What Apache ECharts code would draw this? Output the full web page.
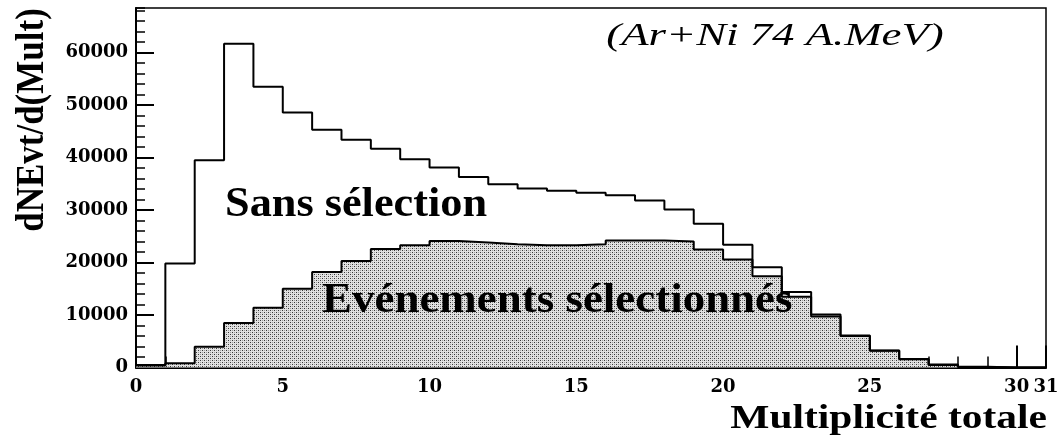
<!DOCTYPE html>
<html>
<head>
<meta charset="utf-8">
<script src="https://cdn.jsdelivr.net/npm/echarts@6/dist/echarts.min.js"></script>
<style>
html,body{margin:0;padding:0;background:#fff;}
#chart{width:1063px;height:440px;}
</style>
</head>
<body>
<div id="chart"></div>
<script>
// Bin lower edges (Multiplicité totale), histogram upper edge
const binStart = [0,1,2,3,4,5,6,7,8,9,10,11,12,13,14,15,16,17,18,19,20,21,22,23,24,25,26,27,28,29,30];
const binEnd = 31;
// "Sans sélection" counts per bin
const sansSelection = [500,19800,39500,61700,53500,48600,45300,43400,41700,39700,38100,36300,34900,34100,33700,33300,32800,31800,30100,27400,23400,19100,14400,10100,6100,3250,1600,550,150,0,0];
// "Evénements sélectionnés" counts per bin
const selectionnes = [400,800,3950,8500,11400,15000,18200,20300,22600,23300,24100,23800,23500,23300,23300,23500,24200,24200,24000,22500,20600,17400,13500,9700,6000,3200,1550,500,100,0,0];
const yMax = 68500;
const xLabelStep = 5;
const yLabelStep = 10000;
const yMinorStep = 2000;
const xMinorStep = 1;

function toSteps(vals){
  const pts = binStart.map((x,i)=>[x, vals[i]]);
  pts.push([binEnd, vals[vals.length-1]]);
  return pts;
}

// stipple pattern
const pc = document.createElement('canvas');
pc.width = 4; pc.height = 4;
const pctx = pc.getContext('2d');
pctx.fillStyle = '#e2e2e2'; pctx.fillRect(0,0,4,4);
pctx.fillStyle = '#383838'; pctx.fillRect(0,0,1,1); pctx.fillRect(2,2,1,1);
pctx.fillStyle = '#a0a0a0'; pctx.fillRect(2,0,1,1); pctx.fillRect(0,2,1,1);

const tickFont = {fontFamily:'DejaVu Serif', fontWeight:'bold', fontSize:18, color:'#000',
  formatter:function(v){return String(v);}};

const chart = echarts.init(document.getElementById('chart'), null, {renderer:'canvas'});
chart.setOption({
  backgroundColor:'#fff',
  animation:false,
  grid:{left:136, right:17, top:8, bottom:72.5, show:true, borderColor:'#000', borderWidth:1.5, containLabel:false},
  xAxis:[{
    type:'value', min:0, max:binEnd, interval:xLabelStep, position:'bottom',
    axisLine:{show:true, onZero:false, lineStyle:{color:'#000', width:2}},
    axisTick:{show:true, inside:true, length:22, lineStyle:{color:'#000', width:2}},
    axisLabel:Object.assign({margin:11}, tickFont),
    splitLine:{show:false}
  },{
    type:'value', min:0, max:binEnd, interval:xMinorStep, position:'bottom',
    axisLine:{show:false, onZero:false},
    axisTick:{show:true, inside:true, length:11, lineStyle:{color:'#000', width:1.5}},
    axisLabel:{show:false}, splitLine:{show:false}
  }],
  yAxis:[{
    type:'value', min:0, max:yMax, interval:yLabelStep, position:'left',
    axisLine:{show:true, onZero:false, lineStyle:{color:'#000', width:2}},
    axisTick:{show:true, inside:true, length:18, lineStyle:{color:'#000', width:2}},
    axisLabel:Object.assign({margin:8, showMaxLabel:false}, tickFont),
    splitLine:{show:false}
  },{
    type:'value', min:0, max:yMax, interval:yMinorStep, position:'left',
    axisLine:{show:false, onZero:false},
    axisTick:{show:true, inside:true, length:9, lineStyle:{color:'#000', width:1.5}},
    axisLabel:{show:false}, splitLine:{show:false}
  }],
  series:[{
    name:'Evénements sélectionnés', type:'line', step:'end', xAxisIndex:0, yAxisIndex:0,
    data:toSteps(selectionnes), symbol:'none', z:2,
    lineStyle:{color:'#000', width:2},
    areaStyle:{color:{image:pc, repeat:'repeat'}, opacity:1}
  },{
    name:'Sans sélection', type:'line', step:'end', xAxisIndex:0, yAxisIndex:0,
    data:toSteps(sansSelection), symbol:'none', z:3,
    lineStyle:{color:'#000', width:2}
  }],
  graphic:[
    {type:'text', x:775, y:37, scaleX:1.4, z:10,
     style:{text:'(Ar+Ni 74 A.MeV)', font:'italic 32px "Liberation Serif"', fill:'#000', textAlign:'center', textVerticalAlign:'middle'}},
    {type:'text', x:225, y:205, scaleX:1.03, z:10,
     style:{text:'Sans sélection', font:'bold 43px "Liberation Serif"', fill:'#000', textAlign:'left', textVerticalAlign:'middle'}},
    {type:'text', x:322, y:301, scaleX:1.07, z:10,
     style:{text:'Evénements sélectionnés', font:'bold 42px "Liberation Serif"', fill:'#000', textAlign:'left', textVerticalAlign:'middle'}},
    {type:'text', x:1047, y:419, scaleX:1.22, z:10,
     style:{text:'Multiplicité totale', font:'bold 34px "Liberation Serif"', fill:'#000', textAlign:'right', textVerticalAlign:'middle'}},
    {type:'text', x:32, y:120, rotation:Math.PI/2, scaleY:1.17, z:10,
     style:{text:'dNEvt/d(Mult)', font:'bold 35px "Liberation Serif"', fill:'#000', textAlign:'center', textVerticalAlign:'middle'}}
  ]
});
</script>
</body>
</html>
